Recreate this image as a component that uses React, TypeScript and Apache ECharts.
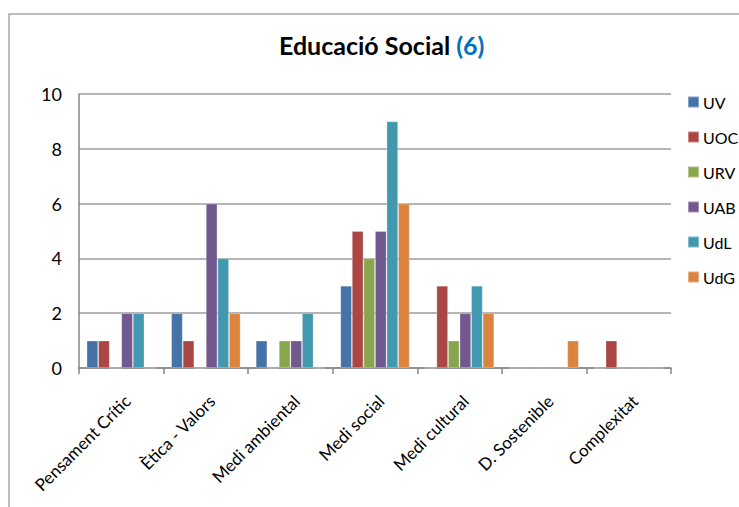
import React, { useEffect, useRef } from "react";
import * as echarts from "echarts";

const categories = [
  "Pensament Crític",
  "Ètica - Valors",
  "Medi ambiental",
  "Medi social",
  "Medi cultural",
  "D. Sostenible",
  "Complexitat",
];

const seriesNames = ["UV", "UOC", "URV", "UAB", "UdL", "UdG"];
const uv = [1, 2, 1, 3, 0, 0, 0];
const uoc = [1, 1, 0, 5, 3, 0, 1];
const urv = [0, 0, 1, 4, 1, 0, 0];
const uab = [2, 6, 1, 5, 2, 0, 0];
const udl = [2, 4, 2, 9, 3, 0, 0];
const udg = [0, 2, 0, 6, 2, 1, 0];
const seriesValues = [uv, uoc, urv, uab, udl, udg];
const colors = ["#4572A7", "#AA4643", "#89A54E", "#71588F", "#4198AF", "#DB843D"];
const yTicks = [0, 2, 4, 6, 8, 10];

const FONT = "Lato, 'Open Sans', sans-serif";

export default function App() {
  const ref = useRef<HTMLDivElement>(null);
  useEffect(() => {
    if (!ref.current) return;
    const chart = echarts.init(ref.current, null, { renderer: "svg" });
    chart.setOption({
      animation: false,
      backgroundColor: "#ffffff",
      textStyle: { fontFamily: FONT },
      title: {
        text: "{a|Educació Social }{b|(6)}",
        left: 274,
        top: 27,
        textStyle: {
          rich: {
            a: { fontFamily: FONT, fontWeight: "bold", fontSize: 25, color: "#000000" },
            b: { fontFamily: FONT, fontWeight: "bold", fontSize: 25, color: "#0070C0" },
          },
        },
      },
      legend: {
        orient: "vertical",
        left: 682,
        top: 89,
        padding: 5,
        itemWidth: 11,
        itemHeight: 11,
        itemGap: 19,
        icon: "rect",
        data: seriesNames,
        textStyle: { fontFamily: FONT, fontSize: 16, color: "#000", lineHeight: 16, padding: [0, 0, 0, -1] },
      },
      grid: { left: 79, right: 68, top: 94, bottom: 139, containLabel: false },
      xAxis: {
        type: "category",
        data: categories,
        axisLine: { lineStyle: { color: "#868686", width: 1.5 } },
        axisTick: { show: true, length: 6, lineStyle: { color: "#868686", width: 1.5 } },
        axisLabel: {
          rotate: 45,
          margin: 24,
          verticalAlign: "top",
          fontFamily: FONT,
          fontSize: 17,
          color: "#000",
          interval: 0,
        },
      },
      yAxis: {
        type: "value",
        min: 0,
        max: 10,
        interval: 2,
        axisLine: { show: true, lineStyle: { color: "#868686", width: 1.5 } },
        axisTick: { show: false },
        splitLine: { lineStyle: { color: "#9d9d9d", width: 1.5 } },
        axisLabel: {
          margin: 17,
          fontFamily: FONT,
          fontSize: 18,
          color: "#000",
          formatter: (v: number) => (yTicks.includes(v) ? String(v) : ""),
        },
      },
      series: seriesNames.map((name, i) => ({
        name,
        type: "bar",
        data: seriesValues[i],
        barGap: "0%",
        barCategoryGap: "18%",
        itemStyle: {
          color: colors[i],
          borderColor: "rgba(255,255,255,0.35)",
          borderWidth: 0.8,
        },
      })),
      graphic: [
        {
          type: "rect",
          shape: { x: 9, y: 14, width: 800, height: 600 },
          style: { fill: "none", stroke: "#a6a6a6", lineWidth: 1.5 },
          silent: true,
        },
      ],
    });
    return () => chart.dispose();
  }, []);
  return <div ref={ref} style={{ width: 739, height: 507, position: "absolute", left: 0, top: 0 }} />;
}
